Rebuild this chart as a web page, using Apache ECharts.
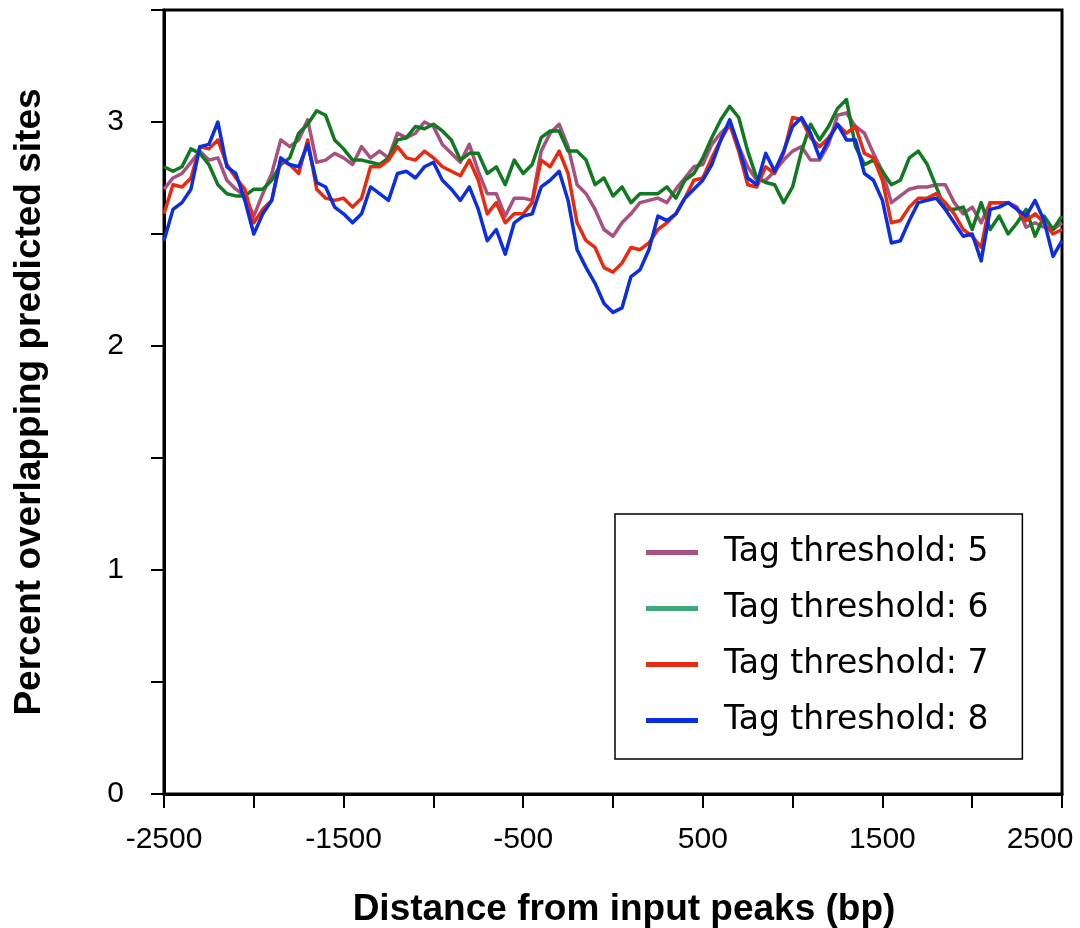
<!DOCTYPE html>
<html>
<head>
<meta charset="utf-8">
<title>Tag threshold profiles</title>
<script src="https://cdn.jsdelivr.net/npm/echarts@6/dist/echarts.min.js"></script>
<style>
  html, body { margin: 0; padding: 0; background: #fff; }
  #chart { width: 1080px; height: 928px; }
</style>
</head>
<body>
<div id="chart"></div>
<script>
// distance from input peak (bp)
const distances = [
  -2500, -2450, -2400, -2350, -2300, -2250, -2200, -2150, -2100, -2050,
  -2000, -1950, -1900, -1850, -1800, -1750, -1700, -1650, -1600, -1550,
  -1500, -1450, -1400, -1350, -1300, -1250, -1200, -1150, -1100, -1050,
  -1000, -950, -900, -850, -800, -750, -700, -650, -600, -550,
  -500, -450, -400, -350, -300, -250, -200, -150, -100, -50,
  0, 50, 100, 150, 200, 250, 300, 350, 400, 450,
  500, 550, 600, 650, 700, 750, 800, 850, 900, 950,
  1000, 1050, 1100, 1150, 1200, 1250, 1300, 1350, 1400, 1450,
  1500, 1550, 1600, 1650, 1700, 1750, 1800, 1850, 1900, 1950,
  2000, 2050, 2100, 2150, 2200, 2250, 2300, 2350, 2400, 2450, 2500
];

const seriesNames = ['Tag threshold: 5', 'Tag threshold: 6', 'Tag threshold: 7', 'Tag threshold: 8'];

const tag5 = [
  2.70, 2.75, 2.77, 2.82, 2.87, 2.83, 2.84, 2.74, 2.70, 2.67, 2.58, 2.68, 2.77, 2.92, 2.89, 2.92, 3.01, 2.82,
  2.83, 2.86, 2.84, 2.81, 2.89, 2.84, 2.87, 2.84, 2.95, 2.93, 2.95, 3.00, 2.98, 2.90, 2.86, 2.82, 2.90,
  2.78, 2.68, 2.68, 2.58, 2.66, 2.66, 2.65, 2.87, 2.95, 2.99, 2.89, 2.72, 2.68, 2.61, 2.52, 2.49,
  2.55, 2.59, 2.64, 2.65, 2.66, 2.64, 2.70, 2.75, 2.80, 2.81, 2.90, 2.95, 2.99, 2.89, 2.80, 2.74, 2.74,
  2.78, 2.83, 2.87, 2.89, 2.83, 2.83, 2.90, 3.03, 3.04, 2.98, 2.95, 2.86, 2.78, 2.64, 2.67, 2.70, 2.71,
  2.71, 2.72, 2.72, 2.64, 2.59, 2.62, 2.55, 2.64, 2.64, 2.64, 2.62, 2.53, 2.55, 2.53, 2.52, 2.55
];
const tag6 = [
  2.80, 2.78, 2.80, 2.88, 2.86, 2.81, 2.72, 2.68, 2.67, 2.67, 2.70, 2.70, 2.74, 2.81, 2.84, 2.95, 2.99, 3.05,
  3.03, 2.92, 2.88, 2.83, 2.83, 2.82, 2.81, 2.84, 2.92, 2.93, 2.98, 2.97, 2.99, 2.96, 2.92, 2.83, 2.86,
  2.86, 2.77, 2.80, 2.72, 2.83, 2.77, 2.81, 2.93, 2.96, 2.96, 2.87, 2.87, 2.83, 2.72, 2.75, 2.67,
  2.71, 2.64, 2.68, 2.68, 2.68, 2.71, 2.66, 2.74, 2.77, 2.84, 2.93, 3.01, 3.07, 3.02, 2.87, 2.75, 2.73,
  2.72, 2.64, 2.71, 2.87, 2.99, 2.92, 2.98, 3.06, 3.10, 2.89, 2.81, 2.83, 2.78, 2.72, 2.74, 2.84, 2.87,
  2.81, 2.71, 2.61, 2.61, 2.62, 2.52, 2.64, 2.52, 2.58, 2.50, 2.55, 2.61, 2.49, 2.58, 2.52, 2.58
];
const tag7 = [
  2.59, 2.72, 2.71, 2.75, 2.89, 2.88, 2.92, 2.81, 2.75, 2.70, 2.55, 2.61, 2.65, 2.83, 2.81, 2.77, 2.92, 2.70,
  2.66, 2.65, 2.66, 2.62, 2.66, 2.80, 2.80, 2.83, 2.89, 2.84, 2.83, 2.87, 2.84, 2.80, 2.78, 2.76, 2.83,
  2.74, 2.59, 2.64, 2.55, 2.59, 2.59, 2.64, 2.83, 2.80, 2.87, 2.77, 2.55, 2.47, 2.44, 2.35, 2.33,
  2.37, 2.44, 2.43, 2.46, 2.52, 2.55, 2.59, 2.66, 2.74, 2.75, 2.84, 2.92, 2.99, 2.87, 2.72, 2.71, 2.80,
  2.77, 2.86, 3.02, 3.01, 2.93, 2.89, 2.93, 2.99, 2.95, 2.98, 2.86, 2.84, 2.74, 2.55, 2.56, 2.62, 2.66,
  2.66, 2.68, 2.64, 2.59, 2.52, 2.49, 2.44, 2.64, 2.64, 2.64, 2.61, 2.56, 2.59, 2.55, 2.50, 2.52
];
const tag8 = [
  2.47, 2.61, 2.64, 2.70, 2.89, 2.90, 3.00, 2.80, 2.77, 2.65, 2.50, 2.59, 2.65, 2.84, 2.81, 2.80, 2.90, 2.73,
  2.71, 2.62, 2.59, 2.55, 2.59, 2.71, 2.68, 2.65, 2.77, 2.78, 2.75, 2.80, 2.82, 2.74, 2.70, 2.65, 2.71,
  2.61, 2.47, 2.52, 2.41, 2.55, 2.58, 2.59, 2.71, 2.74, 2.78, 2.65, 2.43, 2.35, 2.28, 2.19, 2.15,
  2.17, 2.31, 2.34, 2.43, 2.58, 2.56, 2.59, 2.66, 2.70, 2.74, 2.81, 2.92, 3.01, 2.89, 2.75, 2.72, 2.86,
  2.78, 2.87, 2.98, 3.02, 2.95, 2.84, 2.92, 2.99, 2.92, 2.92, 2.77, 2.74, 2.65, 2.46, 2.47, 2.56, 2.64,
  2.65, 2.66, 2.61, 2.55, 2.49, 2.50, 2.38, 2.61, 2.62, 2.64, 2.61, 2.58, 2.65, 2.56, 2.40, 2.47
];

// line colours, and the legend swatch colours (the green one differs in the original)
const lineColors = ['#a8507f', '#0f7a1f', '#e82a10', '#0b2fe0'];
const legendColors = ['#a8507f', '#3fa878', '#e82a10', '#0b2fe0'];

const values = [tag5, tag6, tag7, tag8];

const chart = echarts.init(document.getElementById('chart'), null, { renderer: 'canvas' });

const series = seriesNames.map((name, i) => ({
  name: name,
  type: 'line',
  data: distances.map((d, j) => [d, values[i][j]]),
  showSymbol: false,
  symbol: 'none',
  lineStyle: { color: lineColors[i], width: 3.5, join: 'round' },
  itemStyle: { color: lineColors[i] },
  z: 2 + i
}));

const option = {
  animation: false,
  backgroundColor: '#fff',
  grid: {
    left: 164,
    right: 18,
    top: 10,
    bottom: 134,
    show: true,
    borderColor: '#000',
    borderWidth: 3,
    outerBoundsMode: 'none'
  },
  legend: {
    orient: 'vertical',
    left: 615,
    top: 514,
    padding: [22, 34, 22, 31],
    backgroundColor: '#fff',
    borderColor: '#000',
    borderWidth: 1.5,
    borderRadius: 0,
    icon: 'rect',
    itemWidth: 52,
    itemHeight: 5,
    itemGap: 23,
    textStyle: {
      fontFamily: 'DejaVu Sans',
      fontSize: 33,
      color: '#000',
      padding: [0, 0, 0, 21]
    },
    data: seriesNames.map((name, i) => ({
      name: name,
      itemStyle: { color: legendColors[i] }
    }))
  },
  xAxis: {
    type: 'value',
    min: -2500,
    max: 2500,
    interval: 500,
    name: 'Distance from input peaks (bp)',
    nameLocation: 'middle',
    nameGap: 97,
    nameTextStyle: {
      fontFamily: 'Liberation Sans',
      fontWeight: 'bold',
      fontSize: 37,
      color: '#000',
      padding: [0, 0, 0, 22]
    },
    axisLine: { onZero: false, lineStyle: { color: '#000', width: 3 } },
    axisTick: { inside: false, length: 14, lineStyle: { color: '#000', width: 2 } },
    axisLabel: {
      margin: 31,
      fontFamily: 'Liberation Sans',
      fontSize: 30,
      color: '#000',
      formatter: v => {
        if ((v / 500) % 2 === 0) return '';
        // the last label sits inside the canvas: pad it with an invisible spacer
        return v === 2500 ? '{t|' + v + '}{s| }' : String(v);
      },
      rich: {
        t: { fontFamily: 'Liberation Sans', fontSize: 30, color: '#000' },
        s: { width: 44 }
      }
    },
    splitLine: { show: false }
  },
  yAxis: {
    type: 'value',
    min: 0,
    max: 3.5,
    interval: 0.5,
    name: 'Percent overlapping predicted sites',
    nameLocation: 'middle',
    nameGap: 116,
    nameRotate: 90,
    nameTextStyle: {
      fontFamily: 'Liberation Sans',
      fontWeight: 'bold',
      fontSize: 37,
      color: '#000'
    },
    axisLine: { show: true, onZero: false, lineStyle: { color: '#000', width: 3 } },
    axisTick: { show: true, inside: false, length: 13, lineStyle: { color: '#000', width: 2 } },
    axisLabel: {
      margin: 40,
      fontFamily: 'Liberation Sans',
      fontSize: 30,
      color: '#000',
      formatter: v => (Number.isInteger(v) ? String(v) : '')
    },
    splitLine: { show: false }
  },
  series: series
};

chart.setOption(option);
</script>
</body>
</html>
